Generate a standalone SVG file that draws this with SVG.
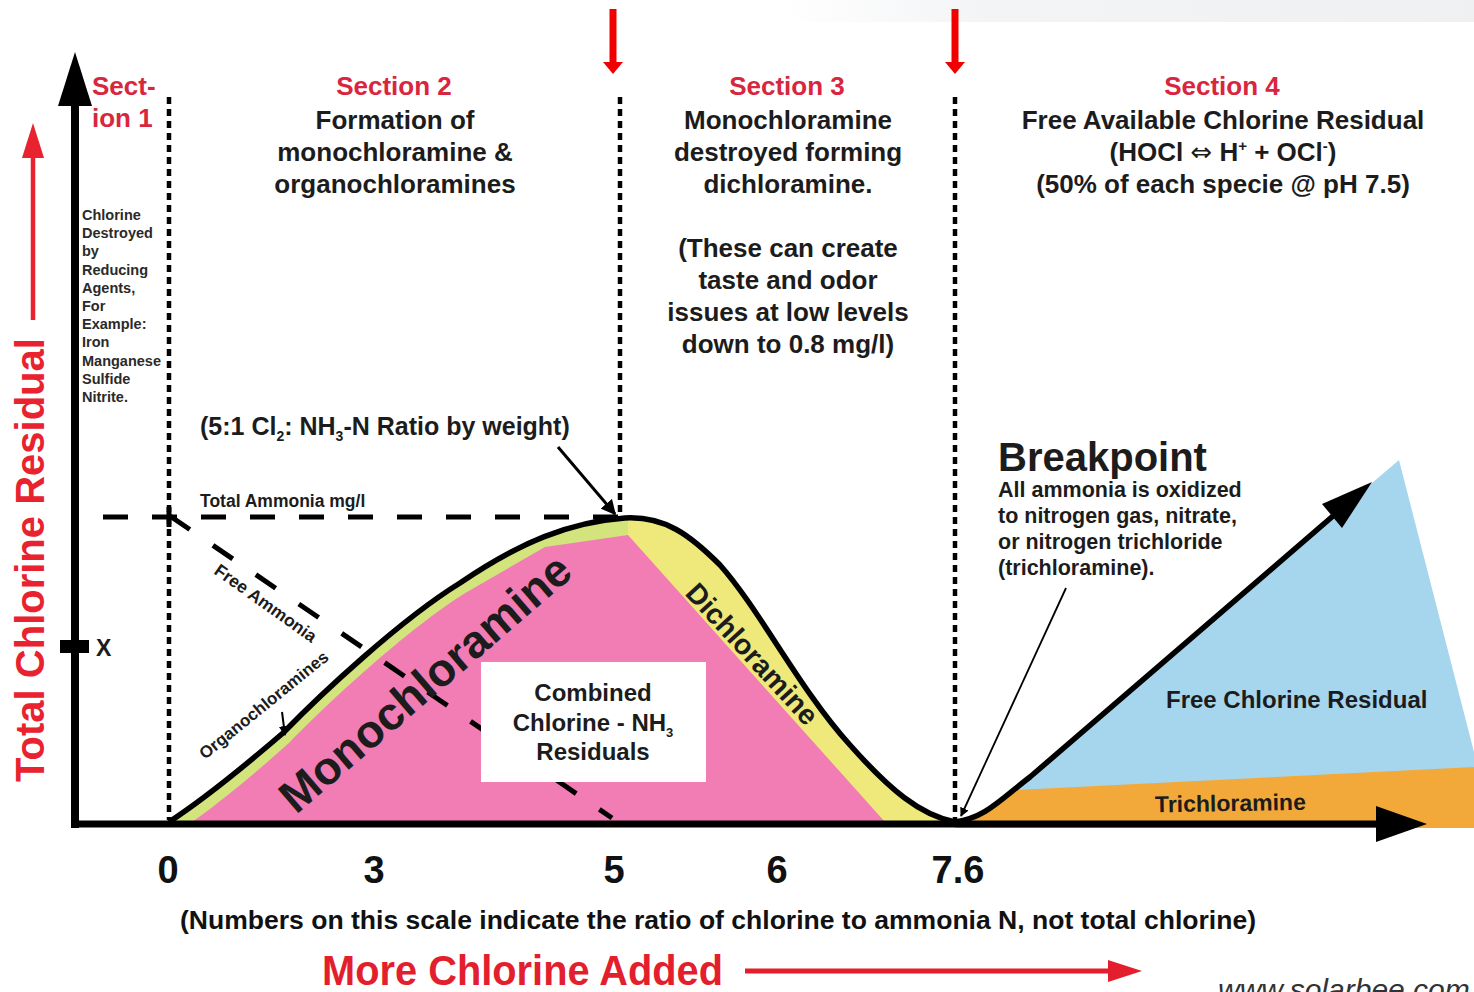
<svg xmlns="http://www.w3.org/2000/svg" width="1474" height="992" viewBox="0 0 1474 992">
<defs>
<style>
text{font-family:"Liberation Sans",Arial,"DejaVu Sans",sans-serif;}
.h{font-size:26px;font-weight:bold;fill:#1c1c1c;text-anchor:middle}
.hr{font-size:26px;font-weight:bold;fill:#D9263F;text-anchor:middle}
.s1{font-size:14.5px;font-weight:bold;fill:#2a2a2a}
.b{font-weight:bold;fill:#1c1c1c}
.num{font-size:38px;font-weight:bold;fill:#111;text-anchor:middle}
.dot{stroke:#000;stroke-width:4.5;stroke-dasharray:7 5;fill:none}
.dash{stroke:#000;stroke-width:5;fill:none}
.thin{stroke:#000;fill:none;marker-end:url(#ah)}
.red{fill:#F00000}
</style>
<marker id="ah" viewBox="0 0 10 10" refX="9" refY="5" markerWidth="5" markerHeight="5" orient="auto" markerUnits="strokeWidth"><path d="M0,0 L10,5 L0,10 z" fill="#000"/></marker>
<linearGradient id="topg" x1="0" y1="0" x2="1" y2="0">
<stop offset="0" stop-color="#ffffff"/>
<stop offset="0.3" stop-color="#f3f4f6"/>
<stop offset="1" stop-color="#eef0f2"/>
</linearGradient>
<clipPath id="under">
<path d="M 169 822 C 195 805 240 770 283 733 C 320 695 400 620 460 583 C 520 542 570 522 625 518 C 665 516 690 535 720 565 C 760 610 800 690 850 745 C 890 790 920 815 955 822 Z"/>
</clipPath>
</defs>
<rect x="0" y="0" width="1474" height="992" fill="#ffffff"/>
<rect x="780" y="0" width="694" height="22" fill="url(#topg)"/>

<g id="fills">
<g clip-path="url(#under)">
<rect x="150" y="500" width="478" height="330" fill="#D3E47C"/>
<rect x="628" y="500" width="340" height="330" fill="#EFE97B"/>
</g>
<path d="M 192 822 C 215 806 250 778 290 742 C 327 704 407 629 467 592 L 545 547 L 628 535 L 885 822 Z" fill="#F27DB5"/>
<path d="M 1008 795 L 1030 777 L 1372 483 L 1399 460 L 1474 752 L 1474 795 Z" fill="#A6D6EE"/>
<path d="M 955 826 C 982 819 998 804 1016 790 L 1474 767 L 1474 828 L 955 828 Z" fill="#F2A93A"/>
</g>

<g id="guides">
<line class="dot" x1="169" y1="97" x2="169" y2="820"/>
<line class="dot" x1="620" y1="97" x2="620" y2="516"/>
<line class="dot" x1="955" y1="97" x2="955" y2="820"/>
<line class="dash" x1="103" y1="517" x2="620" y2="517" stroke-dasharray="25 24"/>
<line class="dash" x1="169" y1="507" x2="169" y2="527"/>
<line class="dash" x1="170" y1="516" x2="612" y2="818" stroke-dasharray="24 28"/>
</g>

<g id="curve">
<path d="M 169 822 C 195 805 240 770 283 733 C 320 695 400 620 460 583 C 520 542 570 522 625 518 C 665 516 690 535 720 565 C 760 610 800 690 850 745 C 890 790 920 815 955 822 C 985 818 1000 800 1030 777 L 1340 510" fill="none" stroke="#000" stroke-width="5.5" stroke-linejoin="round"/>
<polygon points="1372,482 1322,504 1342,528" fill="#000"/>
</g>

<g id="axes">
<line x1="75" y1="100" x2="75" y2="828" stroke="#000" stroke-width="8"/>
<polygon points="75,52 58,106 92,106" fill="#000"/>
<line x1="71" y1="824" x2="1385" y2="824" stroke="#000" stroke-width="7"/>
<polygon points="1427,824 1376,806 1376,842" fill="#000"/>
<rect x="60" y="640" width="29" height="13" fill="#000"/>
<text x="96" y="656" class="b" font-size="23">X</text>
</g>

<g id="node-section1">
<text x="92" y="95" font-size="26" font-weight="bold" fill="#D9263F">Sect-</text>
<text x="92" y="127" font-size="26" font-weight="bold" fill="#D9263F">ion 1</text>
<text class="s1" x="82" y="220">Chlorine</text>
<text class="s1" x="82" y="238.2">Destroyed</text>
<text class="s1" x="82" y="256.4">by</text>
<text class="s1" x="82" y="274.6">Reducing</text>
<text class="s1" x="82" y="292.8">Agents,</text>
<text class="s1" x="82" y="311">For</text>
<text class="s1" x="82" y="329.2">Example:</text>
<text class="s1" x="82" y="347.4">Iron</text>
<text class="s1" x="82" y="365.6">Manganese</text>
<text class="s1" x="82" y="383.8">Sulfide</text>
<text class="s1" x="82" y="402">Nitrite.</text>
</g>

<g id="node-section2">
<text class="hr" x="394" y="95">Section 2</text>
<text class="h" x="395" y="129">Formation of</text>
<text class="h" x="395" y="161">monochloramine &amp;</text>
<text class="h" x="395" y="193">organochloramines</text>
</g>

<g id="node-section3">
<text class="hr" x="787" y="95">Section 3</text>
<text class="h" x="788" y="129">Monochloramine</text>
<text class="h" x="788" y="161">destroyed forming</text>
<text class="h" x="788" y="193">dichloramine.</text>
<text class="h" x="788" y="257">(These can create</text>
<text class="h" x="788" y="289">taste and odor</text>
<text class="h" x="788" y="321">issues at low levels</text>
<text class="h" x="788" y="353">down to 0.8 mg/l)</text>
</g>

<g id="node-section4">
<text class="hr" x="1222" y="95">Section 4</text>
<text class="h" x="1223" y="129">Free Available Chlorine Residual</text>
<text class="h" x="1223" y="161">(HOCl <tspan font-weight="normal" font-family="DejaVu Sans">⇔</tspan> H<tspan dy="-10" font-size="15">+</tspan><tspan dy="10"> + OCl</tspan><tspan dy="-10" font-size="15">-</tspan><tspan dy="10">)</tspan></text>
<text class="h" x="1223" y="193">(50% of each specie @ pH 7.5)</text>
</g>

<g id="node-ratio">
<text x="200" y="435" class="b" font-size="25">(5:1 Cl<tspan dy="6" font-size="14">2</tspan><tspan dy="-6">: NH</tspan><tspan dy="6" font-size="14">3</tspan><tspan dy="-6">-N Ratio by weight)</tspan></text>
<text x="200" y="507" class="b" font-size="17.5" fill="#222">Total Ammonia mg/l</text>
</g>

<g id="node-curve-labels">
<text class="b" font-size="17.5" transform="translate(213,573) rotate(35.5)">Free Ammonia</text>
<text class="b" font-size="17" transform="translate(205,760) rotate(-39)">Organochloramines</text>
<text class="b" font-size="46" fill="#111" transform="translate(296,815) rotate(-40.7)">Monochloramine</text>
<text class="b" font-size="28.5" fill="#111" transform="translate(684,594) rotate(47.5)">Dichloramine</text>
</g>

<g id="node-combined">
<rect x="481" y="662" width="225" height="120" fill="#ffffff"/>
<text class="h" x="593" y="701" style="font-size:24px">Combined</text>
<text class="h" x="593" y="731" style="font-size:24px">Chlorine - NH<tspan dy="6" font-size="13">3</tspan></text>
<text class="h" x="593" y="760" style="font-size:24px">Residuals</text>
</g>

<g id="node-breakpoint">
<text x="998" y="471" class="b" font-size="40">Breakpoint</text>
<text x="998" y="497" class="b" font-size="21.5">All ammonia is oxidized</text>
<text x="998" y="523" class="b" font-size="21.5">to nitrogen gas, nitrate,</text>
<text x="998" y="549" class="b" font-size="21.5">or nitrogen trichloride</text>
<text x="998" y="575" class="b" font-size="21.5">(trichloramine).</text>
</g>

<g id="node-free">
<text x="1166" y="708" class="b" font-size="24">Free Chlorine Residual</text>
</g>
<g id="node-trichloramine">
<text x="1155" y="811" class="b" font-size="23" transform="rotate(-1 1233 805)">Trichloramine</text>
</g>

<g id="node-yaxis-label">
<text x="44" y="560" font-size="40" font-weight="bold" fill="#E8222F" text-anchor="middle" transform="rotate(-90 44 560)">Total Chlorine Residual</text>
</g>

<g id="node-xaxis">
<text class="num" x="168" y="883">0</text>
<text class="num" x="374" y="883">3</text>
<text class="num" x="614" y="883">5</text>
<text class="num" x="777" y="883">6</text>
<text class="num" x="958" y="883">7.6</text>
<text x="180" y="929" font-size="26" font-weight="bold" fill="#111" textLength="1076" lengthAdjust="spacingAndGlyphs">(Numbers on this scale indicate the ratio of chlorine to ammonia N, not total chlorine)</text>
<text x="322" y="985" font-size="42" font-weight="bold" fill="#E31E2D" textLength="401" lengthAdjust="spacingAndGlyphs">More Chlorine Added</text>
<text x="1218" y="1000" font-size="30" font-style="italic" fill="#333">www.solarbee.com</text>
</g>

<g id="connectors">
<line x1="613" y1="9" x2="613" y2="63" stroke="#F00000" stroke-width="7"/>
<polygon class="red" points="613,74 603,62 623,62"/>
<line x1="955" y1="9" x2="955" y2="63" stroke="#F00000" stroke-width="7"/>
<polygon class="red" points="955,74 945,62 965,62"/>
<line x1="33" y1="320" x2="33" y2="152" stroke="#E8222F" stroke-width="4.5"/>
<polygon points="33,123 22,158 44,158" fill="#E8222F"/>
<line x1="745" y1="971" x2="1112" y2="971" stroke="#E31E2D" stroke-width="5"/>
<polygon points="1142,971 1108,960 1108,982" fill="#E31E2D"/>
<line class="thin" x1="558" y1="447" x2="615" y2="514" stroke-width="3"/>
<line class="thin" x1="1066" y1="588" x2="961" y2="816" stroke-width="1.8"/>
<line class="thin" x1="282" y1="712" x2="285" y2="735" stroke-width="2"/>
</g>
</svg>
